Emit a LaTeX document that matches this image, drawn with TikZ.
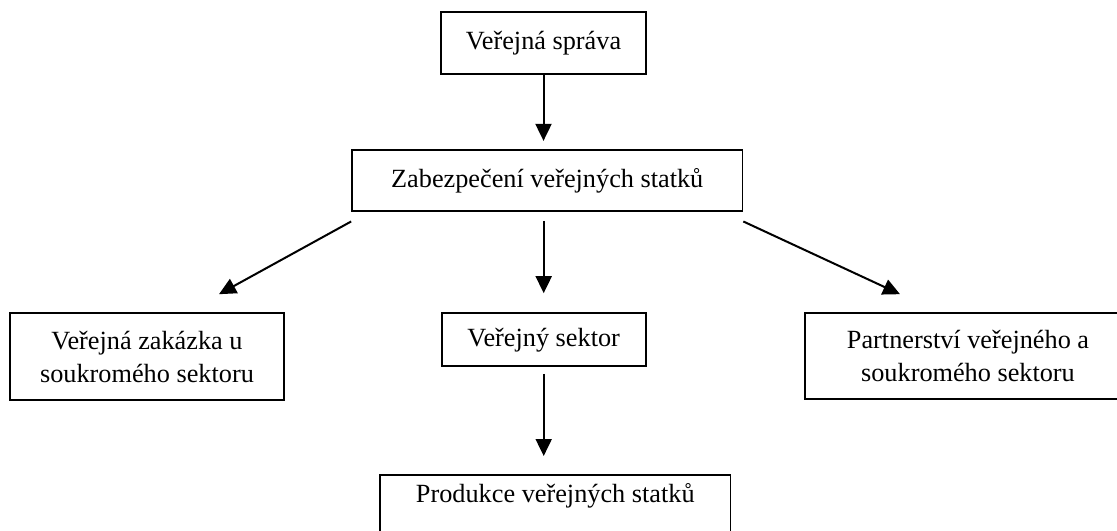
\documentclass[tikz,border=0pt]{standalone}
\usepackage{fontspec}
\setmainfont{Liberation Serif}
\usetikzlibrary{arrows.meta}
\begin{document}
\begin{tikzpicture}[x=0.75pt, y=-0.75pt, >={Triangle[length=12.75pt,width=12pt]},
  box/.style={draw, line width=1.2pt, inner sep=0pt, align=center,
    font=\fontsize{19.7pt}{24.75pt}\selectfont},
  oneline/.style={text height=14.8pt, text depth=4.9pt},
  line/.style={->, line width=1.5pt}]
\clip (0,0) rectangle (1117,531);
% Veřejná správa
\node[box, oneline, minimum width=153.75pt, minimum height=46.5pt] (spr) at (543.5,43) {Veřejná správa};
% Zabezpečení
\node[box, oneline, minimum width=292.9pt, minimum height=45.75pt] (zab) at (547.25,180.5) {Zabezpečení veřejných statků};
% Tři cesty
\node[box, minimum width=205.5pt, minimum height=65.25pt] (zak) at (147,356.5) {Veřejná zakázka u\\soukromého sektoru};
\node[box, oneline, minimum width=153pt, minimum height=39.75pt] (sek) at (543.7,339.5) {Veřejný sektor};
\node[box, minimum width=244.5pt, minimum height=64.5pt] (ppp) at (968,356) {Partnerství veřejného a\\soukromého sektoru};
% Produkce (dole oříznuto)
\node[box, anchor=north, text height=14.8pt, text depth=22pt, inner ysep=6pt, minimum width=263pt] (prod) at (555.3,474) {Produkce veřejných statků};
% Šipky
\draw[line, shorten >=6.25pt] (spr.south) -- (spr.south |- zab.north);
\draw[line, shorten <=6.75pt, shorten >=14.25pt] (sek.north |- zab.south) -- (sek.north);
\draw[line] ([yshift=-7.25pt]zab.south west) -- ([xshift=54pt,yshift=13.5pt]zak.north);
\draw[line] ([yshift=-7.25pt]zab.south east) -- ([xshift=-51pt,yshift=13.5pt]ppp.north);
\draw[line, shorten <=5.25pt, shorten >=13.5pt] (sek.south) -- (sek.south |- prod.north);
\end{tikzpicture}
\end{document}
